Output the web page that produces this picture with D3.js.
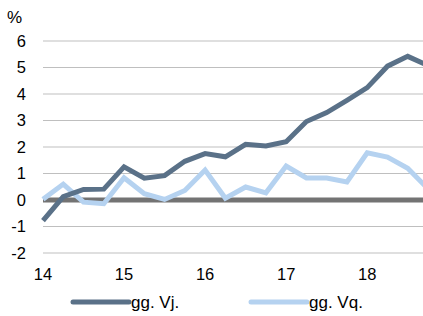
<!DOCTYPE html>
<html lang="en">
  <head>
    <meta charset="UTF-8" />
    <title>gg. Vj. / gg. Vq.</title>
    <script src="https://cdn.jsdelivr.net/npm/d3@7"></script>
    <style>
      body { margin: 0; background: #fff; }
      svg { display: block; font-family: "Liberation Sans", Arial, sans-serif; }
    </style>
  </head>
  <body>
    <svg width="423" height="316"></svg>
    <script>
      // quarters from 2014 Q1 onwards (year fraction)
      const quarters = [14, 14.25, 14.5, 14.75, 15, 15.25, 15.5, 15.75, 16, 16.25,
        16.5, 16.75, 17, 17.25, 17.5, 17.75, 18, 18.25, 18.5, 18.75];
      const vj = [-0.78, 0.13, 0.4, 0.41, 1.25, 0.82, 0.92, 1.46, 1.75, 1.63,
        2.1, 2.04, 2.2, 2.96, 3.3, 3.76, 4.24, 5.05, 5.42, 5.08];
      const vq = [0.03, 0.6, -0.08, -0.14, 0.84, 0.24, 0.02, 0.36, 1.13, 0.07,
        0.49, 0.27, 1.28, 0.83, 0.83, 0.68, 1.78, 1.62, 1.2, 0.42];
      const yTicks = [-2, -1, 0, 1, 2, 3, 4, 5, 6];
      const xTicks = [14, 15, 16, 17, 18];

      const svg = d3.select('svg');

      const x = d3.scaleLinear().domain([14, 18.75]).range([43, 428]);
      const y = d3.scaleLinear().domain([-2, 6]).range([253, 41]);

      // gridlines
      svg.append('g')
        .selectAll('line')
        .data(yTicks.filter(d => d !== 0))
        .join('line')
        .attr('x1', 43).attr('x2', 423)
        .attr('y1', d => y(d)).attr('y2', d => y(d))
        .attr('stroke', '#bfbfbf')
        .attr('stroke-width', 1);

      // y labels
      svg.append('g')
        .selectAll('text')
        .data(yTicks)
        .join('text')
        .attr('x', 26)
        .attr('y', d => y(d))
        .attr('dy', '0.35em')
        .attr('text-anchor', 'end')
        .attr('font-size', 16.5)
        .attr('fill', '#000')
        .text(d => d);

      svg.append('text')
        .attr('x', 7).attr('y', 23)
        .attr('font-size', 17)
        .text('%');

      // x labels
      svg.append('g')
        .selectAll('text')
        .data(xTicks)
        .join('text')
        .attr('x', d => x(d))
        .attr('y', 280)
        .attr('text-anchor', 'middle')
        .attr('font-size', 16.5)
        .text(d => d);

      // zero line
      svg.append('line')
        .attr('x1', 43).attr('x2', 423)
        .attr('y1', y(0)).attr('y2', y(0))
        .attr('stroke', '#737373')
        .attr('stroke-width', 5);

      const line = d3.line()
        .x((d, i) => x(quarters[i]))
        .y(d => y(d));

      svg.append('path')
        .attr('d', line(vq))
        .attr('fill', 'none')
        .attr('stroke', '#b5d2f0')
        .attr('stroke-width', 5);

      svg.append('path')
        .attr('d', line(vj))
        .attr('fill', 'none')
        .attr('stroke', '#5a7188')
        .attr('stroke-width', 5);

      // legend
      const legend = [
        { name: 'gg. Vj.', color: '#5a7188', x: 73 },
        { name: 'gg. Vq.', color: '#b5d2f0', x: 251 }
      ];
      const lg = svg.append('g')
        .selectAll('g')
        .data(legend)
        .join('g');
      lg.append('line')
        .attr('x1', d => d.x).attr('x2', d => d.x + 56)
        .attr('y1', 302).attr('y2', 302)
        .attr('stroke', d => d.color)
        .attr('stroke-width', 5)
        .attr('stroke-linecap', 'round');
      lg.append('text')
        .attr('x', d => d.x + 58)
        .attr('y', 308)
        .attr('font-size', 17)
        .text(d => d.name);
    </script>
  </body>
</html>
